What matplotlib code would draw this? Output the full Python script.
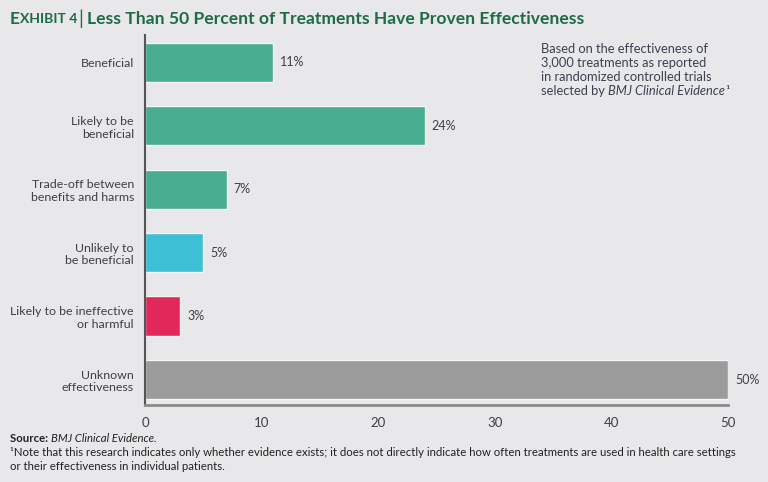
import matplotlib
matplotlib.use("Agg")
import matplotlib.pyplot as plt

categories = ["Beneficial", "Likely to be\nbeneficial", "Trade-off between\nbenefits and harms",
              "Unlikely to\nbe beneficial", "Likely to be ineffective\nor harmful", "Unknown\neffectiveness"]
values = [11, 24, 7, 5, 3, 50]
value_labels = ["11%", "24%", "7%", "5%", "3%", "50%"]
colors = ["#49ad91", "#49ad91", "#49ad91", "#3dc0d6", "#e2285a", "#9b9b9b"]
xticks = [0, 10, 20, 30, 40, 50]

BG = "#e8e8ea"
TXT = "#3f3f44"
FONT = ["Lato", "DejaVu Sans"]
plt.rcParams["font.family"] = FONT

fig = plt.figure(figsize=(7.68, 4.82), dpi=100, facecolor=BG)
ax = fig.add_axes([0.1888, 0.1598, 0.7592, 0.7676])
ax.set_facecolor(BG)

ypos = list(range(len(categories)))
ax.barh(ypos, values, height=0.62, color=colors, edgecolor="#f4f4f4", linewidth=1.0)
for y, v, lab in zip(ypos, values, value_labels):
    ax.text(v + 0.6, y, lab, va="center", ha="left", fontsize=9, color=TXT)

ax.set_ylim(5.4, -0.43)
ax.set_xlim(0, 50)
ax.set_yticks(ypos)
ax.set_yticklabels(categories, fontsize=8.9, color=TXT, linespacing=1.2)
ax.set_xticks(xticks)
ax.set_xticklabels([str(t) for t in xticks], fontsize=9.5, color=TXT)
ax.tick_params(axis="x", length=0, pad=9)
ax.tick_params(axis="y", length=0, pad=8)
for s in ["top", "right"]:
    ax.spines[s].set_visible(False)
ax.spines["left"].set_color("#555555")
ax.spines["left"].set_linewidth(1.5)
ax.spines["bottom"].set_color("#8a8a8a")
ax.spines["bottom"].set_linewidth(2)

renderer = fig.canvas.get_renderer()

def chain(x_px, y_px, parts, **kw):
    """Place text pieces one after another on a line (x,y in pixels from top-left)."""
    x = x_px / 768
    for s, extra in parts:
        t = fig.text(x, 1 - y_px / 482, s, va="center", ha="left", **kw, **extra)
        bb = t.get_window_extent(renderer)
        x = (bb.x1) / 768 / (fig.dpi / 100)
    return x

# Title
GREEN = "#1e6b47"
fig.text(10/768, 1-19/482, "E", fontsize=12.5, fontweight="bold", color=GREEN, va="center", ha="left")
fig.text(20/768, 1-19/482, "XHIBIT 4", fontsize=10, fontweight="bold", color=GREEN, va="center", ha="left")
fig.text(78/768, 1-19/482, "|", fontsize=14, color=GREEN, va="center", ha="left")
fig.text(87/768, 1-19/482, "Less Than 50 Percent of Treatments Have Proven Effectiveness",
         fontsize=12.6, fontweight="bold", color=GREEN, va="center", ha="left")

# Annotation
NOTE = "#3a4152"
ann_lines = ["Based on the effectiveness of", "3,000 treatments as reported",
             "in randomized controlled trials"]
for i, l in enumerate(ann_lines):
    fig.text(541/768, 1-(49+14*i)/482, l, fontsize=9.3, color=NOTE, va="center", ha="left")
chain(541, 91, [("selected by ", {}), ("BMJ Clinical Evidence", {"fontstyle": "italic"}),
                ("¹", {})], fontsize=9.3, color=NOTE)

# Footer
FOOT = "#222222"
chain(10, 438, [("Source: ", {"fontweight": "bold"}),
                ("BMJ Clinical Evidence.", {"fontstyle": "italic"})], fontsize=8.2, color=FOOT)
fig.text(10/768, 1-453/482,
         "¹Note that this research indicates only whether evidence exists; it does not directly indicate how often treatments are used in health care settings",
         fontsize=8.2, color=FOOT, va="center", ha="left")
fig.text(10/768, 1-467/482, "or their effectiveness in individual patients.", fontsize=8.2,
         color=FOOT, va="center", ha="left")

fig.savefig("out.png", dpi=100, facecolor=BG)
